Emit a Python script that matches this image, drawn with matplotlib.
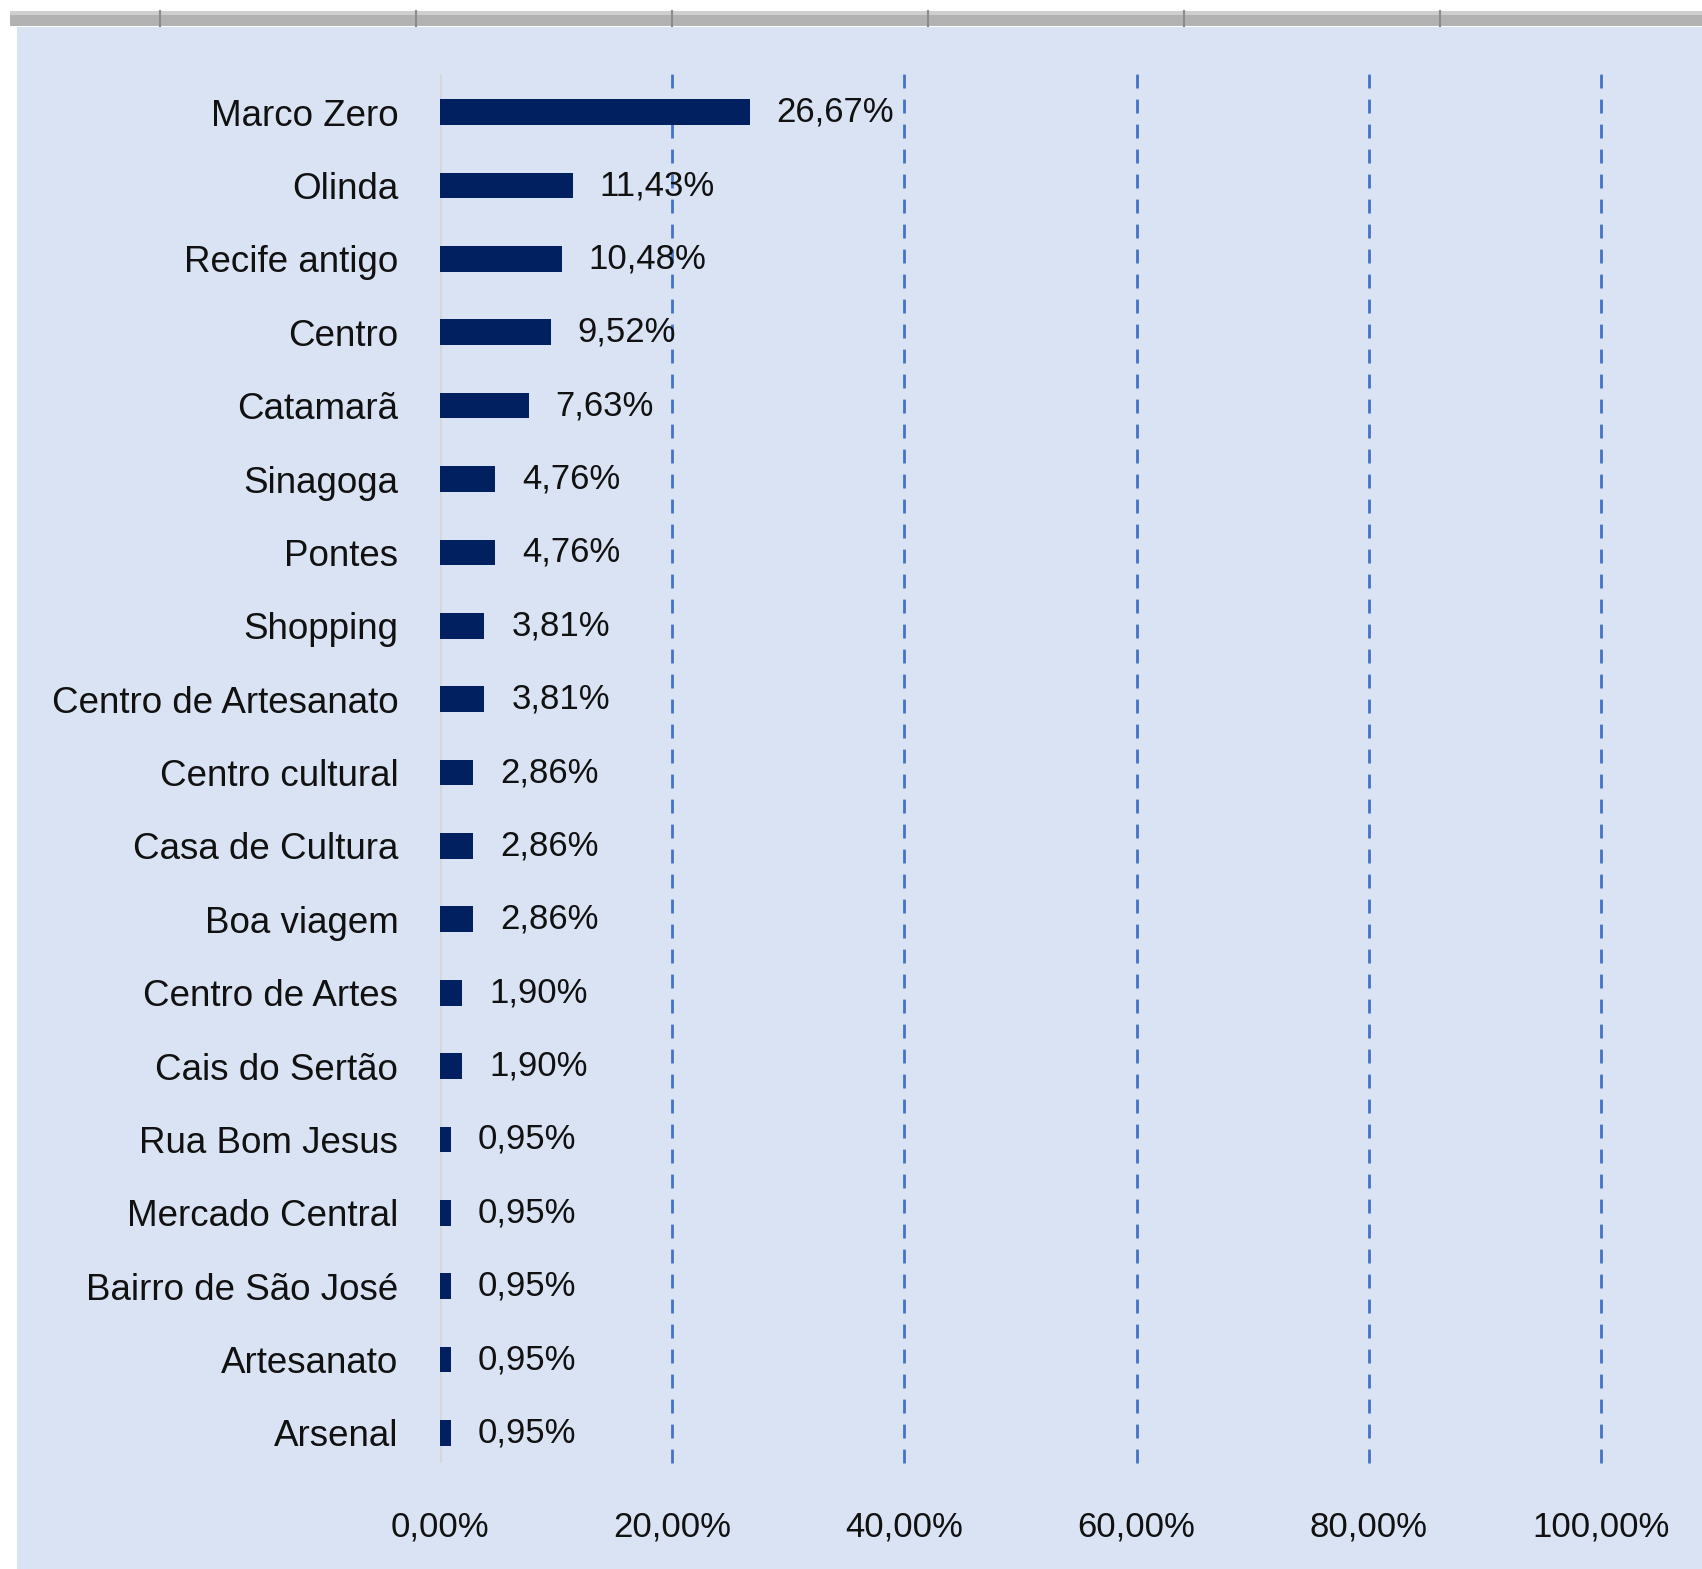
import matplotlib
matplotlib.use("Agg")
import matplotlib.pyplot as plt
from matplotlib.patches import Rectangle
from matplotlib.lines import Line2D

plt.rcParams['font.family'] = ['Liberation Sans', 'DejaVu Sans']

# Dados
locais = ["Marco Zero", "Olinda", "Recife antigo", "Centro", "Catamarã",
          "Sinagoga", "Pontes", "Shopping", "Centro de Artesanato",
          "Centro cultural", "Casa de Cultura", "Boa viagem", "Centro de Artes",
          "Cais do Sertão", "Rua Bom Jesus", "Mercado Central",
          "Bairro de São José", "Artesanato", "Arsenal"]
percentuais = [26.67, 11.43, 10.48, 9.52, 7.63, 4.76, 4.76, 3.81, 3.81,
               2.86, 2.86, 2.86, 1.90, 1.90, 0.95, 0.95, 0.95, 0.95, 0.95]
ticks_x = [0, 20, 40, 60, 80, 100]

W, H = 1702, 1569
fig = plt.figure(figsize=(W / 100, H / 100), dpi=100, facecolor="white")

# fondo azul claro e barra gris superior
fig.patches.append(Rectangle((17 / W, 0), 1 - 17 / W, 1 - 27 / H,
                             transform=fig.transFigure, facecolor="#dae3f3",
                             edgecolor="none", zorder=-2))
fig.patches.append(Rectangle((10 / W, 1 - 26 / H), 1 - 10 / W, 15 / H,
                             transform=fig.transFigure, facecolor="#b2b2b2",
                             edgecolor="none", zorder=-2))
fig.patches.append(Rectangle((10 / W, 1 - 15 / H), 1 - 10 / W, 4 / H,
                             transform=fig.transFigure, facecolor="#cfcfcf",
                             edgecolor="none", zorder=-2))
for xp in [160, 416, 672, 928, 1184, 1440]:
    fig.lines.append(Line2D([xp / W, xp / W], [1 - 26 / H, 1 - 11 / H],
                            transform=fig.transFigure, color="#8c8c8c", lw=1.5,
                            zorder=-1))

ax = fig.add_axes([440 / W, 1 - 1463 / H, (1601 - 440) / W, (1463 - 74) / H])
ax.set_zorder(1)
ax.set_facecolor("none")

y = list(range(len(locais)))
ax.barh(y, percentuais, height=0.35, color="#002060", zorder=3)

for yi, v in zip(y, percentuais):
    ax.annotate(f"{v:.2f}%".replace(".", ","), (v, yi), xytext=(19.5, 0),
                textcoords="offset points", va="center", ha="left",
                fontsize=25, color="#111111")

ax.set_xlim(0, 100)
ax.set_ylim(len(locais) - 0.59, -0.52)
ax.set_yticks(y)
ax.set_yticklabels(locais, fontsize=26.5, color="#111111")
ax.set_xticks(ticks_x)
ax.set_xticklabels([f"{t:.2f}%".replace(".", ",") for t in ticks_x],
                   fontsize=25, color="#111111")
ax.tick_params(axis="both", length=0)
ax.tick_params(axis="y", pad=30)
ax.tick_params(axis="x", pad=34)

for xg in ticks_x[1:]:
    ax.axvline(xg, color="#4472c4", lw=2, linestyle=(0, (5, 4)), zorder=1,
               clip_on=False)
ax.axvline(0, color="#d6d6d6", lw=2, zorder=2)

for s in ax.spines.values():
    s.set_visible(False)

fig.savefig("out.png", dpi=100, facecolor="white")
